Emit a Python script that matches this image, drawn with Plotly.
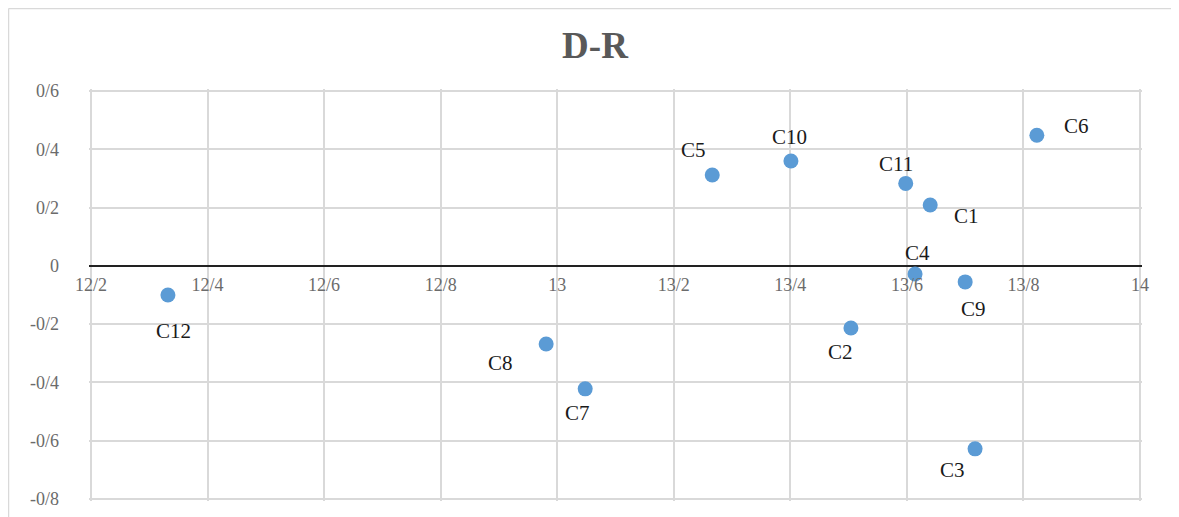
import plotly.graph_objects as go

# ---- data ----
names = ["C1", "C2", "C3", "C4", "C5", "C6", "C7", "C8", "C9", "C10", "C11", "C12"]
x_vals = [13.64, 13.504, 13.717, 13.614, 13.266, 13.823, 13.048, 12.981, 13.70, 13.401, 13.598, 12.332]
y_vals = [0.209, -0.213, -0.628, -0.028, 0.312, 0.448, -0.422, -0.268, -0.055, 0.36, 0.283, -0.10]

x_ticks = [12.2, 12.4, 12.6, 12.8, 13.0, 13.2, 13.4, 13.6, 13.8, 14.0]
x_tick_text = ["12/2", "12/4", "12/6", "12/8", "13", "13/2", "13/4", "13/6", "13/8", "14"]
y_ticks = [-0.8, -0.6, -0.4, -0.2, 0.0, 0.2, 0.4, 0.6]
y_tick_text = ["-0/8", "-0/6", "-0/4", "-0/2", "0", "0/2", "0/4", "0/6"]

title_text = "D-R"

# label offsets in pixels (style)
label_dx = [36, -10, -23, 2, -19, 40, -8, -46, 8, -1, -10, 6]
label_dy = [-11, -24, -21, 21, 25, 9, -24, -19, -27, 24, 19, -36]

# the page has an 8px body margin, so the figure is drawn smaller
OFF = 8
PAD = 2  # px of padding so the edge gridlines are drawn
W, H = 1179 - 2 * OFF, 517 - OFF
ML, MT = 91 - OFF - PAD, 91 - OFF - PAD
MR = W - (1140 - OFF + PAD)
MB = H - (499 - OFF + PAD)
x_lo, x_hi = 12.2, 14.0
y_lo, y_hi = -0.8, 0.6
px_per_x = (1140 - 91) / (x_hi - x_lo)
px_per_y = (499 - 91) / (y_hi - y_lo)
x_range = [x_lo - PAD / px_per_x, x_hi + PAD / px_per_x]
y_range = [y_lo - PAD / px_per_y, y_hi + PAD / px_per_y]
serif = "Liberation Serif, Times New Roman, serif"

fig = go.Figure()
fig.add_trace(go.Scatter(
    x=x_vals, y=y_vals, mode="markers",
    marker=dict(color="#5b9bd5", size=15, line=dict(width=0)),
    hoverinfo="text", text=names, showlegend=False,
))

annotations = []
for n, xv, yv, dx, dy in zip(names, x_vals, y_vals, label_dx, label_dy):
    annotations.append(dict(
        x=xv, y=yv, xref="x", yref="y", text=n, showarrow=False,
        xshift=dx, yshift=dy,
        font=dict(family=serif, size=21, color="#1a1a1a"),
    ))

zero_pos = (0 - y_range[0]) / (y_range[1] - y_range[0])
pw, ph = W - ML - MR, H - MT - MB
frame_left = (0.5 - ML) / pw
frame_top = 1 + (MT - 0.5) / ph
frame_bottom = -(MB + 10) / ph
frame_right = (W + 10 - ML) / pw

fig.update_layout(
    width=W, height=H,
    margin=dict(l=ML, r=MR, t=MT, b=MB, autoexpand=False),
    paper_bgcolor="white", plot_bgcolor="white",
    title=dict(text="<b>" + title_text + "</b>", x=587 / W, xanchor="center",
               y=1 - 37 / H, yanchor="middle",
               font=dict(family=serif, size=37, color="#595959")),
    xaxis=dict(
        range=x_range, tickvals=x_ticks, ticktext=x_tick_text,
        showgrid=True, gridcolor="#d9d9d9", gridwidth=1.5,
        zeroline=False,
        anchor="free", position=zero_pos,
        showline=False,
        ticks="", ticklabelstandoff=6, ticklabeloverflow="allow",
        tickfont=dict(family=serif, size=18, color="#6b6b6b"),
    ),
    yaxis=dict(
        range=y_range, tickvals=y_ticks, ticktext=y_tick_text,
        showgrid=True, gridcolor="#d9d9d9", gridwidth=1.5,
        zeroline=True, zerolinecolor="#222222", zerolinewidth=2,
        showline=False, ticks="",
        ticklabelstandoff=29, automargin=False, ticklabeloverflow="allow",
        tickfont=dict(family=serif, size=18, color="#6b6b6b"),
    ),
    annotations=annotations,
    shapes=[
        dict(type="line", xref="paper", yref="paper",
             x0=frame_left, x1=frame_right, y0=frame_top, y1=frame_top,
             line=dict(color="#d9d9d9", width=1.5), layer="below"),
        dict(type="line", xref="paper", yref="paper",
             x0=frame_left, x1=frame_left, y0=frame_bottom, y1=frame_top,
             line=dict(color="#d9d9d9", width=1.5), layer="below"),
    ],
)

fig.write_html("out.html")
